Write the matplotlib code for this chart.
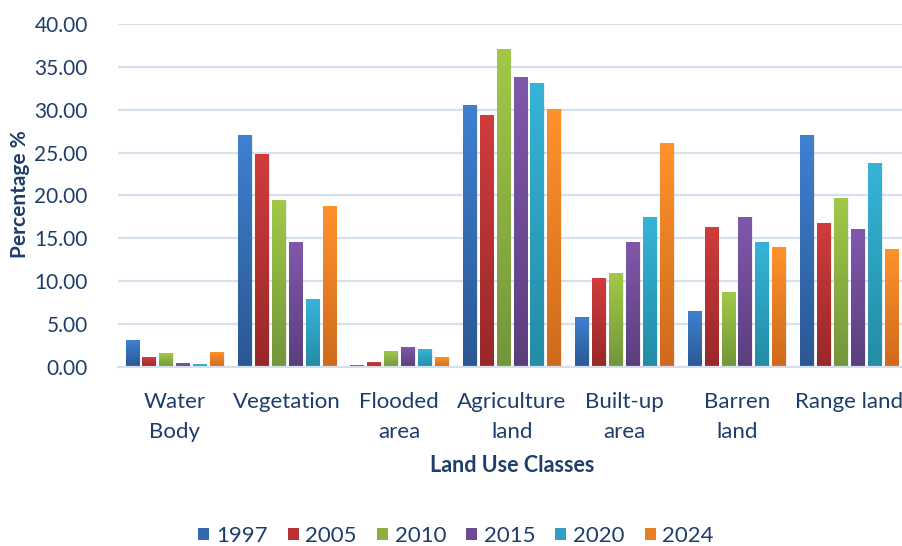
import numpy as np
import matplotlib
matplotlib.use("Agg")
import matplotlib.pyplot as plt
from matplotlib.colors import LinearSegmentedColormap
from matplotlib.patches import Patch

# Land use share (%) by class and year
categories = ["Water\nBody", "Vegetation", "Flooded\narea", "Agriculture\nland",
              "Built-up\narea", "Barren\nland", "Range land"]
years = ["1997", "2005", "2010", "2015", "2020", "2024"]
v1997 = [3.1, 27.1, 0.2, 30.5, 5.8, 6.5, 27.1]
v2005 = [1.1, 24.8, 0.5, 29.4, 10.3, 16.3, 16.8]
v2010 = [1.6, 19.4, 1.8, 37.1, 10.9, 8.7, 19.7]
v2015 = [0.4, 14.6, 2.3, 33.8, 14.6, 17.5, 16.1]
v2020 = [0.3, 7.9, 2.0, 33.1, 17.5, 14.6, 23.8]
v2024 = [1.7, 18.7, 1.1, 30.1, 26.1, 14.0, 13.7]
series = [v1997, v2005, v2010, v2015, v2020, v2024]
yticks = [0, 5, 10, 15, 20, 25, 30, 35, 40]

# (top colour, bottom colour) for each year's gradient fill
shades = [("#3f80d0", "#2a5894"),
          ("#d03c3c", "#982828"),
          ("#a2c848", "#72963a"),
          ("#8058ab", "#5a3f7e"),
          ("#36b4d8", "#248ca6"),
          ("#fd922c", "#d06a1c")]
legend_colors = ["#3468b3", "#b83232", "#8bb040", "#6c4b95", "#2ea1c0", "#ea7e24"]

navy = "#1f3d6b"
plt.rcParams["font.family"] = ["Lato", "DejaVu Sans"]

W, H = 902, 546
fig = plt.figure(figsize=(W / 100, H / 100), dpi=100)
ax_l, ax_r, ax_t, ax_b = 118.3, 905.3, 24.3, 366.7
ax = fig.add_axes([ax_l / W, 1 - ax_b / H, (ax_r - ax_l) / W, (ax_b - ax_t) / H])

x = np.arange(len(categories))
pitch = 0.1505
width = 0.119
offsets = (np.arange(len(years)) - (len(years) - 1) / 2) * pitch

grad = np.linspace(0, 1, 64).reshape(-1, 1)
for i, (vals, (top, bot)) in enumerate(zip(series, shades)):
    bars = ax.bar(x + offsets[i], vals, width=width, color=top, zorder=3,
                  linewidth=0)
    cmap = LinearSegmentedColormap.from_list(f"g{i}", [bot, top])
    for b in bars:
        bx, bw, bh = b.get_x(), b.get_width(), b.get_height()
        # soft drop shadow to the right
        ax.bar(bx + bw / 2 + 0.012, bh, width=bw, bottom=-0.05, color="#000000",
               alpha=0.07, zorder=2, linewidth=0)
        ax.imshow(grad, extent=[bx, bx + bw, 0, bh], origin="lower",
                  aspect="auto", cmap=cmap, zorder=4, interpolation="bilinear")

ax.set_xlim(-0.5, len(categories) - 0.5)
ax.set_ylim(0, 40)
ax.set_yticks(yticks)
ax.set_yticklabels([f"{t:.2f}" for t in yticks])
ax.set_xticks(x)
ax.set_xticklabels(categories, linespacing=1.65)
ax.tick_params(axis="both", length=0, labelcolor=navy)
ax.tick_params(axis="y", pad=22, labelsize=15)
ax.tick_params(axis="x", pad=18, labelsize=16)

ax.grid(axis="y", color="#d6dfec", linewidth=1.6, zorder=0)
ax.set_axisbelow(True)
for s in ["top", "right", "left"]:
    ax.spines[s].set_visible(False)
ax.spines["bottom"].set_color("#d6dfec")
ax.spines["bottom"].set_linewidth(1.6)
ax.spines["bottom"].set_zorder(5)

fig.text(20 / W, 1 - 194 / H, "Percentage %", rotation=90, ha="center",
         va="center", fontsize=15, fontweight="bold", color=navy)
fig.text(512 / W, 1 - 465 / H, "Land Use Classes", ha="center", va="center",
         fontsize=15.5, fontweight="bold", color=navy)

handles = [Patch(facecolor=c, edgecolor="none") for c in legend_colors]
leg = fig.legend(handles, years, loc="center", ncol=6,
                 bbox_to_anchor=(456 / W, 1 - 536 / H), frameon=False,
                 fontsize=16, handlelength=0.5, handleheight=0.5,
                 handletextpad=0.3, columnspacing=0.9)
for t in leg.get_texts():
    t.set_color(navy)

fig.savefig("out.png", dpi=100)
